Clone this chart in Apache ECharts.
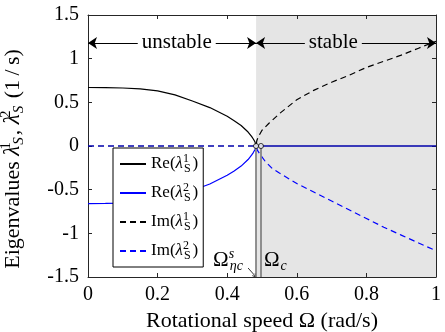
<!DOCTYPE html>
<html>
<head>
<meta charset="utf-8">
<script src="https://cdn.jsdelivr.net/npm/echarts@6/dist/echarts.min.js"></script>
<style>
  html, body { margin: 0; padding: 0; background: #fff; }
  #chart { width: 445px; height: 332px; }
</style>
</head>
<body>
<div id="chart"></div>
<script>
// Critical rotational speeds (rad/s)
const omegaEtaS = 0.483;
const omegaC = 0.497;

// Re(lambda_S^1)
const re1Omega = [0, 0.05, 0.1, 0.15, 0.2, 0.25, 0.3, 0.35, 0.4, 0.42, 0.44, 0.46, 0.47, 0.475, 0.48, 0.483, 0.6, 0.8, 1];
const re1Value = [0.67, 0.668, 0.664, 0.655, 0.632, 0.585, 0.515, 0.44, 0.34, 0.29, 0.235, 0.16, 0.11, 0.08, 0.045, 0, 0, 0, 0];

// Re(lambda_S^2)
const re2Omega = [0, 0.05, 0.1, 0.15, 0.2, 0.25, 0.3, 0.35, 0.4, 0.42, 0.44, 0.46, 0.47, 0.475, 0.48, 0.483, 0.6, 0.8, 1];
const re2Value = [-0.66, -0.658, -0.654, -0.645, -0.622, -0.578, -0.51, -0.435, -0.335, -0.285, -0.23, -0.155, -0.105, -0.075, -0.04, 0, 0, 0, 0];

// Im(lambda_S^1)
const im1Omega = [0, 0.2, 0.4, 0.483, 0.485, 0.49, 0.5, 0.52, 0.55, 0.6, 0.65, 0.7, 0.75, 0.8, 0.85, 0.9, 0.95, 1];
const im1Value = [0, 0, 0, 0, 0.06, 0.11, 0.18, 0.26, 0.37, 0.53, 0.64, 0.73, 0.81, 0.9, 0.97, 1.04, 1.12, 1.2];

// Im(lambda_S^2)
const im2Omega = [0, 0.2, 0.4, 0.483, 0.487, 0.495, 0.51, 0.53, 0.55, 0.6, 0.65, 0.7, 0.75, 0.8, 0.85, 0.9, 0.95, 1];
const im2Value = [0, 0, 0, 0, -0.05, -0.1, -0.18, -0.26, -0.31, -0.43, -0.53, -0.63, -0.73, -0.83, -0.93, -1.02, -1.11, -1.2];

// Axis tick labels
const xTickLabels = ['0', '0.2', '0.4', '0.6', '0.8', '1'];
const yTickLabels = ['-1.5', '-1', '-0.5', '0', '0.5', '1', '1.5'];

// Region labels and where they sit along the arrows
const regionLabels = ['unstable', 'stable'];
const regionLabelOmega = [0.255, 0.705];

const fontFamily = "'Liberation Serif', 'Times New Roman', serif";
const black = '#000';
const blue = '#0000ff';
const shade = '#e5e5e5';
const axisColor = '#262626';
const arrowY = 1.18;

function pairs(xs, ys) {
  return xs.map((x, i) => [x, ys[i]]);
}

// Rich-text styles for stacked super/subscripts
function mathRich(size, scriptSize, lineHeight, subItalic) {
  return {
    l: { fontFamily, fontSize: size, fontStyle: 'italic', color: black, lineHeight },
    sup: { fontFamily, fontSize: scriptSize, color: black, verticalAlign: 'top', lineHeight: scriptSize + 2, width: 0 },
    sub: { fontFamily, fontSize: scriptSize, color: black, verticalAlign: 'bottom', lineHeight: scriptSize + 2, fontStyle: subItalic ? 'italic' : 'normal', padding: [0, 2, 0, 1] }
  };
}

const legendText = {
  'Re1': 'Re({l|λ}{sup|1}{sub|S})',
  'Re2': 'Re({l|λ}{sup|2}{sub|S})',
  'Im1': 'Im({l|λ}{sup|1}{sub|S})',
  'Im2': 'Im({l|λ}{sup|2}{sub|S})'
};

const chart = echarts.init(document.getElementById('chart'), null, { renderer: 'canvas' });

const xBase = {
  type: 'value', min: 0, max: 1, interval: 0.2,
  axisLine: { show: true, onZero: false, lineStyle: { color: axisColor, width: 1 } },
  axisTick: { show: true, inside: true, length: 4, lineStyle: { color: axisColor, width: 1 } },
  splitLine: { show: false },
  z: 3
};
const yBase = {
  type: 'value', min: -1.5, max: 1.5, interval: 0.5,
  axisLine: { show: true, onZero: false, lineStyle: { color: axisColor, width: 1 } },
  axisTick: { show: true, inside: true, length: 4, lineStyle: { color: axisColor, width: 1 } },
  splitLine: { show: false },
  z: 3
};

const lineSeries = (name, xs, ys, color, dashed) => ({
  name, type: 'line',
  data: pairs(xs, ys),
  symbol: 'none', showSymbol: false,
  lineStyle: { color, width: 1.2, type: dashed ? [6, 4] : 'solid' },
  itemStyle: { color },
  emphasis: { disabled: true },
  animation: false
});

const re1 = lineSeries('Re1', re1Omega, re1Value, black, false);
re1.markArea = {
  silent: true,
  itemStyle: { color: shade },
  data: [[{ xAxis: omegaEtaS, yAxis: -1.5 }, { xAxis: 1, yAxis: 1.5 }]]
};

const arrowStyle = { color: black, width: 1, type: 'solid' };

const critical = {
  name: 'critical', type: 'scatter',
  data: [[omegaEtaS, 0], [omegaC, 0]],
  symbol: 'circle', symbolSize: 5,
  itemStyle: { color: '#fff', borderColor: black, borderWidth: 1 },
  z: 6, silent: true, animation: false,
  markLine: {
    silent: true, animation: false,
    symbol: ['none', 'none'],
    label: { show: false },
    data: [
      [{ coord: [omegaEtaS, 0], lineStyle: { color: '#7f7f7f', width: 1.7, type: 'solid' } }, { coord: [omegaEtaS, -1.5] }],
      [{ coord: [omegaC, 0], lineStyle: { color: '#7f7f7f', width: 1.7, type: 'solid' } }, { coord: [omegaC, -1.5] }],
      [{ coord: [0, arrowY], symbol: 'arrow', symbolSize: 9, lineStyle: arrowStyle },
       { coord: [omegaEtaS, arrowY], symbol: 'arrow', symbolSize: 9 }],
      [{ coord: [omegaEtaS, arrowY], symbol: 'arrow', symbolSize: 9, lineStyle: arrowStyle },
       { coord: [1, arrowY], symbol: 'arrow', symbolSize: 9 }]
    ]
  }
};

chart.setOption({
  animation: false,
  backgroundColor: '#fff',
  grid: { left: 88, right: 9, top: 15, bottom: 55, containLabel: false, outerBoundsMode: 'none' },
  xAxis: [
    Object.assign({}, xBase, {
      position: 'bottom',
      axisLabel: { fontFamily, fontSize: 20, color: black, margin: 8, formatter: (v, i) => xTickLabels[i] },
      name: 'Rotational speed Ω (rad/s)', nameLocation: 'middle', nameGap: 32,
      nameTextStyle: { fontFamily, fontSize: 22, color: black }
    }),
    Object.assign({}, xBase, { position: 'top', axisLabel: { show: false } })
  ],
  yAxis: [
    Object.assign({}, yBase, {
      position: 'left',
      axisLabel: { fontFamily, fontSize: 20, color: black, margin: 9, formatter: (v, i) => yTickLabels[i] },
      name: 'Eigenvalues {l|λ}{sup|1}{sub|S}, {l|λ}{sup|2}{sub|S} (1\u2009/\u2009s)',
      nameLocation: 'middle', nameGap: 61, nameRotate: 90,
      nameTextStyle: { fontFamily, fontSize: 22, color: black, lineHeight: 28, padding: [0, 26, 0, 0], rich: mathRich(23, 15, 28, true) }
    }),
    Object.assign({}, yBase, { position: 'right', axisLabel: { show: false } })
  ],
  legend: {
    data: ['Re1', 'Re2', 'Im1', 'Im2'],
    orient: 'vertical', left: 113, top: 148,
    backgroundColor: '#fff', borderColor: black, borderWidth: 1, borderRadius: 0,
    padding: [5, 5, 5, 6], itemGap: 7, itemWidth: 26, itemHeight: 14,
    selectedMode: false,
    itemStyle: { opacity: 0 },
    formatter: name => legendText[name],
    textStyle: { fontFamily, fontSize: 17, color: black, lineHeight: 22, rich: mathRich(17, 12, 22, false) }
  },
  series: [
    re1,
    lineSeries('Im1', im1Omega, im1Value, black, true),
    lineSeries('Re2', re2Omega, re2Value, blue, false),
    lineSeries('Im2', im2Omega, im2Value, blue, true),
    critical
  ]
});

const toPx = p => chart.convertToPixel({ xAxisIndex: 0, yAxisIndex: 0 }, p);

// Annotations for the two critical speeds below the plot
const pS = toPx([omegaEtaS, -1.5]);
const pC = toPx([omegaC, -1.5]);

function arrow(x1, y1, x2, y2) {
  const a = Math.atan2(y2 - y1, x2 - x1);
  const h = 4, s = 0.5;
  return {
    type: 'group', silent: true, z: 20,
    children: [
      { type: 'polyline', shape: { points: [[x1, y1], [x2, y2]] }, style: { stroke: black, lineWidth: 0.8, fill: null } },
      { type: 'polyline', shape: { points: [
        [x2 - h * Math.cos(a - s), y2 - h * Math.sin(a - s)], [x2, y2],
        [x2 - h * Math.cos(a + s), y2 - h * Math.sin(a + s)]] },
        style: { stroke: black, lineWidth: 0.8, fill: null } }
    ]
  };
}

const labelRich = {
  o: { fontFamily, fontSize: 21, color: black, lineHeight: 26 },
  sup: { fontFamily, fontSize: 14, fontStyle: 'italic', color: black, verticalAlign: 'top', lineHeight: 14, width: 0 },
  sub: { fontFamily, fontSize: 14, fontStyle: 'italic', color: black, verticalAlign: 'bottom', lineHeight: 14, padding: [0, 0, 0, 1] }
};

// Region captions sitting on the double arrows
const regionText = (i, bg) => {
  const p = toPx([regionLabelOmega[i], arrowY]);
  return {
    type: 'text', x: p[0], y: p[1], silent: true, z: 20,
    style: {
      text: regionLabels[i], fontFamily, fontSize: 21, fill: black,
      align: 'center', verticalAlign: 'middle', backgroundColor: bg, padding: [0, 4]
    }
  };
};

chart.setOption({
  graphic: [
    regionText(0, '#fff'),
    regionText(1, shade),
    { type: 'text', x: pS[0] - 43, y: pS[1] - 30, silent: true, z: 20,
      style: { text: '{o|Ω}{sup|s}{sub|ηc}', rich: labelRich } },
    arrow(pS[0] - 8, pS[1] - 9, pS[0], pS[1]),
    { type: 'text', x: pC[0] + 3, y: pC[1] - 30, silent: true, z: 20,
      style: { text: '{o|Ω}{sub|c}', rich: labelRich } },
    arrow(pC[0] + 4, pC[1] - 10, pC[0], pC[1])
  ]
});
</script>
</body>
</html>
